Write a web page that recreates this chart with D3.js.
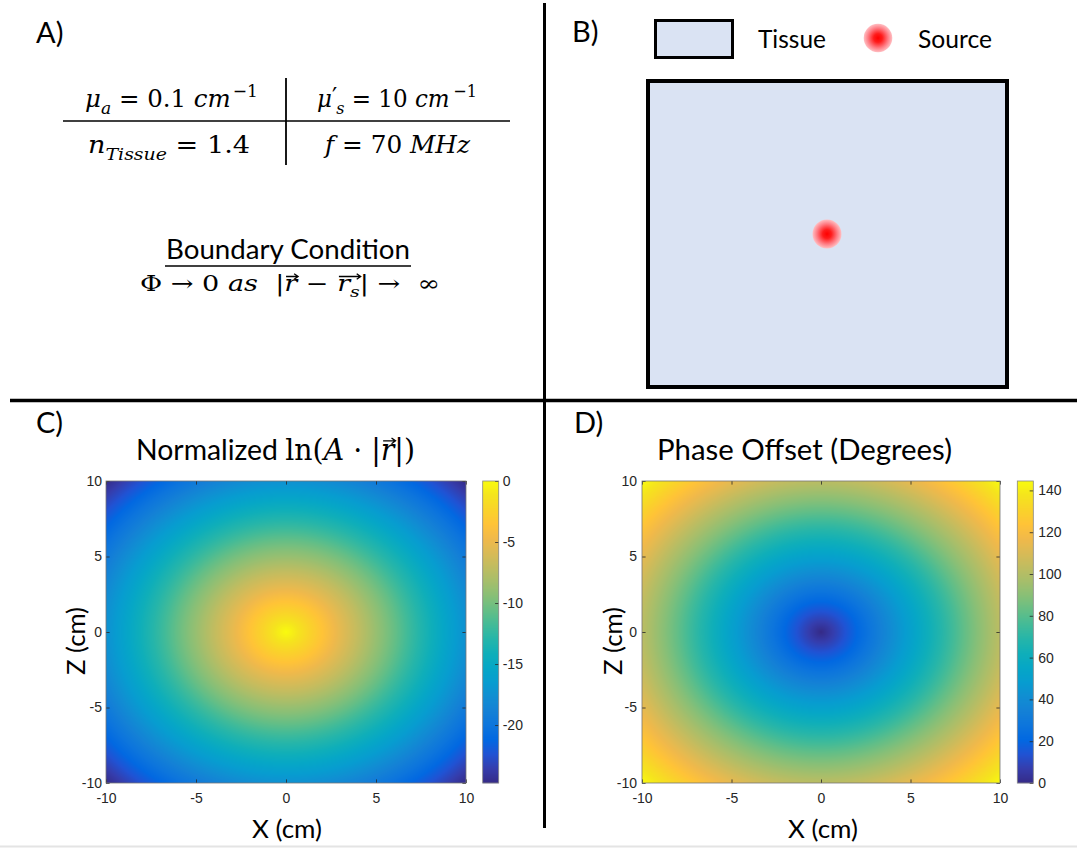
<!DOCTYPE html>
<html><head><meta charset="utf-8">
<script src="https://cdn.jsdelivr.net/npm/d3@7"></script>
<style>body{margin:0;background:#fff;} svg{display:block}</style>
</head><body>
<svg id="c" width="1077" height="850"></svg>
<script>
// ---------------- data ----------------
const xTicks = [-10, -5, 0, 5, 10];
const zTicks = [-10, -5, 0, 5, 10];
const lnTicks = [0, -5, -10, -15, -20];
const phaseTicks = [0, 20, 40, 60, 80, 100, 120, 140];
const lnRange = [-24.75, 0];
const phaseRange = [0, 144.5];
// radial profiles (distance from source, cm)
const profileRadius = [0, 1, 2, 3, 4, 5, 6, 7, 8, 9, 10, 11, 12, 13, 14.14];
const lnProfile = [0, -1.8, -3.5, -5.3, -7.0, -8.8, -10.5, -12.3, -14.0, -15.8, -17.5, -19.3, -21.0, -22.8, -24.75];
const phaseProfile = [0, 10, 20.5, 30.5, 41, 51, 61.5, 71.5, 82, 92, 102, 112.5, 122.5, 133, 144.5];
// parula colormap stops
const parula = [
 [0.208,0.166,0.529],[0.208,0.239,0.677],[0.125,0.324,0.830],[0.006,0.409,0.883],
 [0.050,0.459,0.864],[0.078,0.504,0.838],[0.064,0.557,0.824],[0.027,0.614,0.814],
 [0.023,0.653,0.777],[0.059,0.684,0.725],[0.145,0.710,0.665],[0.259,0.732,0.595],
 [0.395,0.746,0.524],[0.530,0.749,0.466],[0.647,0.746,0.419],[0.752,0.738,0.377],
 [0.851,0.730,0.336],[0.945,0.726,0.289],[0.999,0.765,0.216],[0.979,0.827,0.163],
 [0.959,0.895,0.113],[0.976,0.983,0.054]];

const SANS = "Lato, 'Open Sans', sans-serif";
const SERIF = "'DejaVu Serif', serif";
const TICKF = "'Liberation Sans', Arial, sans-serif";

const svg = d3.select("#c");

// colormap LUT
const cmap = d3.scaleLinear()
  .domain(parula.map((d, i) => i / (parula.length - 1)))
  .range(parula.map(c => d3.rgb(c[0] * 255, c[1] * 255, c[2] * 255)))
  .interpolate(d3.interpolateRgb).clamp(true);
const LUT = d3.range(1024).map(i => d3.rgb(cmap(i / 1023)));

// ---------------- dividers ----------------
svg.append("line").attr("x1", 544.5).attr("x2", 544.5).attr("y1", 3).attr("y2", 828)
  .attr("stroke", "#000").attr("stroke-width", 3);
svg.append("line").attr("x1", 10).attr("x2", 1077).attr("y1", 400.5).attr("y2", 400.5)
  .attr("stroke", "#000").attr("stroke-width", 3.5);
svg.append("line").attr("x1", 0).attr("x2", 1077).attr("y1", 846.5).attr("y2", 846.5)
  .attr("stroke", "#e4e4e4").attr("stroke-width", 2);

// ---------------- helpers ----------------
function label(txt, x, y) {
  svg.append("text").attr("x", x).attr("y", y).attr("font-family", SANS)
    .attr("font-size", 29).attr("fill", "#000").text(txt);
}
function mathText(parent, segs, opt) {
  const t = parent.append("text").attr("x", opt.x).attr("y", opt.y)
    .attr("font-size", opt.size).attr("font-family", SERIF).attr("fill", "#000")
    .style("white-space", "pre").attr("text-anchor", opt.anchor || "middle");
  let shift = 0, idx = 0;
  const groups = {};
  segs.forEach(s => {
    const small = s.sub || s.sup;
    const fs = s.fs ? opt.size * s.fs : small ? opt.size * 0.7 : opt.size;
    const target = s.sub ? opt.size * 0.28 : s.sup ? -opt.size * (s.raise || 0.42) : 0;
    const ts = t.append("tspan").text(s.t).attr("font-size", fs).attr("dy", target - shift);
    shift = target;
    if (s.i) ts.attr("font-style", "italic");
    if (s.f) ts.attr("font-family", s.f);
    if (s.dx) ts.attr("dx", s.dx);
    if (s.arrow) {
      (groups[s.arrow] = groups[s.arrow] || []).push([idx, s.t.length]);
    }
    idx += s.t.length;
  });
  if (opt.w) t.attr("textLength", opt.w).attr("lengthAdjust", opt.adjust || "spacingAndGlyphs");
  const node = t.node();
  Object.values(groups).forEach(list => {
    let x0 = Infinity, x1 = -Infinity;
    list.forEach(([s, n]) => {
      for (let k = s; k < s + n; k++) {
        const e = node.getExtentOfChar(k);
        x0 = Math.min(x0, e.x); x1 = Math.max(x1, e.x + e.width);
      }
    });
    const ya = opt.y - opt.size * 0.66;
    const xa = x0 + opt.size * 0.08, xb = x1 + opt.size * 0.04;
    parent.append("path")
      .attr("d", `M${xa},${ya}L${xb},${ya}M${xb - 4},${ya - 2.8}L${xb},${ya}L${xb - 4},${ya + 2.8}`)
      .attr("fill", "none").attr("stroke", "#000").attr("stroke-width", 1.3);
  });
  return t;
}

// ---------------- Panel A ----------------
label("A)", 36, 43);
const gA = svg.append("g");
mathText(gA, [{t: "μ", i: 1}, {t: "a", i: 1, sub: 1}, {t: " = 0.1 "}, {t: "cm", i: 1}, {t: "−1", sup: 1, dx: 2}],
  {x: 171.5, y: 107, size: 25, w: 173});
mathText(gA, [{t: "μ", i: 1}, {t: "′", sup: 1, fs: 1.0, raise: 0.08}, {t: "s", i: 1, sub: 1, dx: -1}, {t: " = 10 "}, {t: "cm", i: 1}, {t: "−1", sup: 1, dx: 4}],
  {x: 397, y: 107, size: 25, w: 160});
mathText(gA, [{t: "n", i: 1}, {t: "Tissue", i: 1, sub: 1}, {t: " = 1.4"}],
  {x: 169, y: 153, size: 25, w: 162});
mathText(gA, [{t: "f", i: 1}, {t: " = 70 "}, {t: "MHz", i: 1}],
  {x: 397.5, y: 153, size: 25, w: 145});
gA.append("line").attr("x1", 63).attr("x2", 510).attr("y1", 121).attr("y2", 121)
  .attr("stroke", "#000").attr("stroke-width", 1.6);
gA.append("line").attr("x1", 286).attr("x2", 286).attr("y1", 78).attr("y2", 165)
  .attr("stroke", "#000").attr("stroke-width", 1.8);

gA.append("text").attr("x", 288).attr("y", 259).attr("text-anchor", "middle")
  .attr("font-family", SANS).attr("font-size", 26).attr("fill", "#000")
  .attr("textLength", 244).attr("lengthAdjust", "spacingAndGlyphs").text("Boundary Condition");
gA.append("line").attr("x1", 165).attr("x2", 411).attr("y1", 266).attr("y2", 266)
  .attr("stroke", "#000").attr("stroke-width", 1.5);
mathText(gA, [{t: "Φ → 0 "}, {t: "as", i: 1}, {t: "  |"}, {t: "r", i: 1, arrow: "a"}, {t: " − "},
  {t: "r", i: 1, arrow: "b"}, {t: "s", i: 1, sub: 1, arrow: "b"}, {t: "| →  ∞"}],
  {x: 290, y: 291, size: 22, w: 300});

// ---------------- Panel B ----------------
label("B)", 572, 42);
const defs = svg.append("defs");
const rg = defs.append("radialGradient").attr("id", "srcGrad");
[[0, "#ff0000"], [0.3, "#ff1c1c"], [0.7, "#ff7c84"], [1, "#ffc0c4"]].forEach(([o, c]) =>
  rg.append("stop").attr("offset", o).attr("stop-color", c));
svg.append("rect").attr("x", 655.5).attr("y", 20.5).attr("width", 77).attr("height", 37)
  .attr("fill", "#dae3f3").attr("stroke", "#000").attr("stroke-width", 3);
svg.append("text").attr("x", 758).attr("y", 48).attr("font-family", SANS).attr("font-size", 25)
  .attr("textLength", 68).attr("lengthAdjust", "spacingAndGlyphs").text("Tissue");
svg.append("circle").attr("cx", 878).attr("cy", 38).attr("r", 14.3).attr("fill", "url(#srcGrad)");
svg.append("text").attr("x", 918).attr("y", 48).attr("font-family", SANS).attr("font-size", 25)
  .attr("textLength", 74).attr("lengthAdjust", "spacingAndGlyphs").text("Source");
svg.append("rect").attr("x", 648).attr("y", 81).attr("width", 359).attr("height", 306)
  .attr("fill", "#dae3f3").attr("stroke", "#000").attr("stroke-width", 4);
svg.append("circle").attr("cx", 827).attr("cy", 234).attr("r", 14.5).attr("fill", "url(#srcGrad)");

// ---------------- heatmap panels ----------------
function heatPanel(o) {
  const g = svg.append("g");
  const x = d3.scaleLinear().domain([-10, 10]).range([o.x0, o.x1]);
  const y = d3.scaleLinear().domain([-10, 10]).range([783, 481]);
  const prof = d3.scaleLinear().domain(profileRadius).range(o.profile).clamp(true);
  const norm = d3.scaleLinear().domain(o.range).range([0, 1]).clamp(true);
  const w = Math.round(o.x1 - o.x0), h = 302;
  const cv = document.createElement("canvas");
  cv.width = w; cv.height = h;
  const ctx = cv.getContext("2d");
  const img = ctx.createImageData(w, h);
  for (let j = 0; j < h; j++) {
    const zv = y.invert(481 + j + 0.5);
    for (let i = 0; i < w; i++) {
      const xv = x.invert(o.x0 + i + 0.5);
      const v = prof(Math.hypot(xv, zv));
      const c = LUT[Math.round(norm(v) * 1023)];
      const k = (j * w + i) * 4;
      img.data[k] = c.r; img.data[k + 1] = c.g; img.data[k + 2] = c.b; img.data[k + 3] = 255;
    }
  }
  ctx.putImageData(img, 0, 0);
  g.append("image").attr("x", o.x0).attr("y", 481).attr("width", w).attr("height", h)
    .attr("preserveAspectRatio", "none").attr("href", cv.toDataURL());

  const fmt = d => String(d);
  const styleAxis = sel => {
    sel.select(".domain").remove();
    sel.selectAll(".tick line").attr("stroke", "#262626").attr("stroke-width", 0.8);
    sel.selectAll("text").attr("font-family", TICKF).attr("font-size", 14).attr("fill", "#262626");
  };
  g.append("g").attr("transform", "translate(0,783)")
    .call(d3.axisBottom(x).tickValues(xTicks).tickFormat(fmt).tickSizeInner(-3.6).tickSizeOuter(0).tickPadding(10)).call(styleAxis);
  g.append("g").attr("transform", "translate(0,481)")
    .call(d3.axisTop(x).tickValues(xTicks).tickFormat("").tickSizeInner(-3.6).tickSizeOuter(0)).call(styleAxis);
  g.append("g").attr("transform", `translate(${o.x0},0)`)
    .call(d3.axisLeft(y).tickValues(zTicks).tickFormat(fmt).tickSizeInner(-3.6).tickSizeOuter(0).tickPadding(o.ypad)).call(styleAxis);
  g.append("g").attr("transform", `translate(${o.x1},0)`)
    .call(d3.axisRight(y).tickValues(zTicks).tickFormat("").tickSizeInner(-3.6).tickSizeOuter(0)).call(styleAxis);
  g.append("rect").attr("x", o.x0).attr("y", 481).attr("width", o.x1 - o.x0).attr("height", 302)
    .attr("fill", "none").attr("stroke", "#777").attr("stroke-width", 0.8);

  // colorbar
  const cb = d3.scaleLinear().domain(o.range).range([783, 481]);
  g.append("g").selectAll("rect").data(d3.range(481, 783)).join("rect")
    .attr("x", o.cb0).attr("width", o.cb1 - o.cb0).attr("y", d => d).attr("height", 1.2)
    .attr("fill", d => LUT[Math.round(norm(cb.invert(d + 0.5)) * 1023)]);
  g.append("g").attr("transform", `translate(${o.cb1},0)`)
    .call(d3.axisRight(cb).tickValues(o.cticks).tickFormat(fmt).tickSizeInner(-3.6).tickSizeOuter(0).tickPadding(o.cpad)).call(styleAxis);
  g.append("rect").attr("x", o.cb0).attr("y", 481).attr("width", o.cb1 - o.cb0).attr("height", 302)
    .attr("fill", "none").attr("stroke", "#888").attr("stroke-width", 0.8);

  // axis labels
  g.append("text").attr("x", o.xlab).attr("y", 838).attr("text-anchor", "middle")
    .attr("font-family", SANS).attr("font-size", 25).attr("textLength", 70)
    .attr("lengthAdjust", "spacingAndGlyphs").text("X (cm)");
  g.append("text").attr("transform", `translate(${o.zlab},641) rotate(-90)`).attr("text-anchor", "middle")
    .attr("font-family", SANS).attr("font-size", 25).attr("textLength", 68)
    .attr("lengthAdjust", "spacingAndGlyphs").text("Z (cm)");
}

heatPanel({x0: 106, x1: 466, cb0: 482.7, cb1: 498.7, profile: lnProfile, range: lnRange,
  cticks: lnTicks, ypad: 4, cpad: 4, xlab: 287, zlab: 85});
heatPanel({x0: 642, x1: 1000, cb0: 1017.3, cb1: 1033.3, profile: phaseProfile, range: phaseRange,
  cticks: phaseTicks, ypad: 5, cpad: 5, xlab: 823, zlab: 622});

// titles
label("C)", 36, 433);
label("D)", 574, 433);
mathText(svg, [{t: "Normalized ", f: SANS}, {t: "ln("}, {t: "A", i: 1}, {t: " · |"}, {t: "r", i: 1, arrow: "r"}, {t: "|)"}],
  {x: 136, y: 460, size: 29, w: 279, anchor: "start"});
svg.append("text").attr("x", 657).attr("y", 460).attr("font-family", SANS).attr("font-size", 29)
  .attr("textLength", 295).attr("lengthAdjust", "spacingAndGlyphs").text("Phase Offset (Degrees)");
</script></body></html>
